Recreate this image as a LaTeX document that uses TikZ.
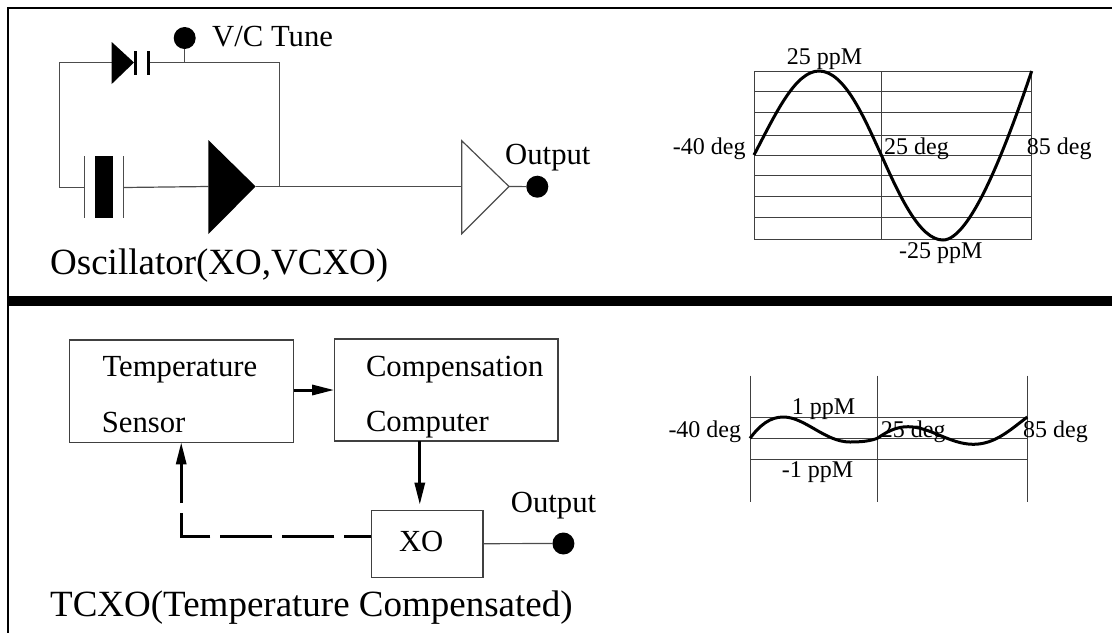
\documentclass[tikz,border=0pt]{standalone}
\usepackage{fontspec}
\setmainfont{Liberation Serif}
\usetikzlibrary{arrows.meta}
\tikzset{
  wire/.style={draw=black!70, line width=1.2pt},
  gridline/.style={draw=black!75, line width=1.2pt},
  curve/.style={draw=black, line width=3pt},
  blockbox/.style={draw=black!75, line width=1.2pt, fill=none, inner sep=0pt},
  dot/.style={draw=none, fill=black, circle, minimum size=22pt, inner sep=0pt},
  txt/.style={anchor=base west, inner sep=0pt, font=\fontsize{30.7}{36}\selectfont},
  small/.style={anchor=base west, inner sep=0pt, font=\fontsize{24}{29}\selectfont},
  title/.style={anchor=base west, inner sep=0pt, font=\fontsize{37}{44}\selectfont},
  flow/.style={line width=3pt, -{Stealth[length=22pt, width=10pt, inset=0pt]}}
}
\begin{document}
\begin{tikzpicture}[x=1pt, y=-1pt]
  \useasboundingbox (0,0) rectangle (1112,633);
  % frame and divider
  \draw[line width=2pt] (1112,7.5) -- (7.5,7.5) -- (7.5,633);
  \draw[line width=10pt] (7.5,301) -- (1112,301);

  % oscillator circuit
  \coordinate (loopleft) at (59.5,187.5);
  \coordinate (diodein) at (111.7,62.5);
  \coordinate (diodetip) at (134,62.5);
  \coordinate (capout) at (148.7,62.5);
  \coordinate (loopright) at (279.5,62.5);
  \coordinate (xtalin) at (84.3,187.5);
  \coordinate (xtalout) at (123.7,187.5);
  \coordinate (ampin) at (208.3,186.5);
  \coordinate (amptip) at (255.7,186.5);
  \coordinate (ampnode) at (279.5,186.5);
  \coordinate (bufin) at (461.7,186.5);
  \coordinate (buftip) at (509,186.5);
  \node[dot] (tunedot) at (184.7,38) {};
  \node[dot] (outdot) at (537.3,186.7) {};
  \draw[wire] (xtalin) -- (loopleft) |- (diodein);
  \draw[wire] (capout) -- (loopright) -- (ampnode);
  \draw[wire] (tunedot) -- (tunedot |- capout);
  \draw[wire] (xtalout) -- (ampin);
  \draw[wire] (amptip) -- (bufin);
  \draw[wire] (buftip) -- (outdot);
  \fill (diodein |- 0,42) -- (diodetip) -- (diodein |- 0,84) -- cycle;
  \draw[line width=3pt] (135.5,51) -- (135.5,75);
  \draw[line width=3pt] (148.7,51) -- (148.7,75);
  \draw[wire] (84.3,156) -- (84.3,218);
  \draw[wire] (123.7,156) -- (123.7,218);
  \fill (95,156) rectangle (113,218);
  \fill (ampin |- 0,140) -- (amptip) -- (ampin |- 0,234) -- cycle;
  \draw[wire] (bufin |- 0,140.7) -- (buftip) -- (bufin |- 0,233.7) -- cycle;
  \node[txt] (tunelabel) at (212,46.5) {V/C Tune};
  \node[txt] (outlabel) at (505,164.5) {Output};
  \node[title] (osctitle) at (50,274) {Oscillator(XO,VCXO)};

  % oscillator drift chart
  \foreach \yy in {71.5,91.5,112.5,135.5,155.5,175.5,196.5,217.5,239.5}
    \draw[gridline] (754,\yy) -- (1031.7,\yy);
  \foreach \xx in {754.5,881.5,1031.5}
    \draw[gridline] (\xx,71.5) -- (\xx,239.5);
  \draw[curve] (754,155) .. controls (775,115) and (795,71) .. (819,71)
    .. controls (845,71) and (865,120) .. (881.3,155)
    .. controls (900,197) and (920,240) .. (943,240)
    .. controls (970,240) and (1005,150) .. (1031.7,71);
  \node[small] (ppmtop) at (786.7,64) {25 ppM};
  \node[small] (ppmlow) at (899,258) {-25 ppM};
  \node[small] (degcold) at (672.7,154) {-40 deg};
  \node[small] (degroom) at (884,154) {25 deg};
  \node[small] (deghot) at (1026.7,154) {85 deg};

  % tcxo blocks
  \node[blockbox, minimum width=224.2pt, minimum height=102.3pt] (tempbox) at (181.7,391.2) {};
  \node[blockbox, minimum width=223.2pt, minimum height=102pt] (compbox) at (446.4,390) {};
  \node[blockbox, minimum width=111.6pt, minimum height=67pt] (xobox) at (427.1,543.8) {};
  \node[dot] (tcxodot) at (563.4,543.5) {};
  \coordinate (comptap) at (419.8,441);
  \coordinate (xotap) at (371.3,536);
  \coordinate (sensetap) at (181.2,442.3);
  \draw[flow] (tempbox.east |- 0,390) -- (compbox.west |- 0,390);
  \draw[flow, shorten >=5pt] (comptap) -- (comptap |- xobox.north);
  \draw[flow, dash pattern=on 52pt off 10pt, dash phase=25pt] (xotap) -| (sensetap);
  \draw[wire] (xobox) -- (tcxodot);
  \node[txt] (tempt) at (102.3,376.5) {Temperature};
  \node[txt] (sensort) at (101.6,432) {Sensor};
  \node[txt] (compt) at (365.8,376) {Compensation};
  \node[txt] (computert) at (365.8,431.5) {Computer};
  \node[txt] (xot) at (398.8,551.5) {XO};
  \node[txt] (tcxoout) at (510.7,512) {Output};
  \node[title] (tcxotitle) at (50,616) {TCXO(Temperature Compensated)};

  % tcxo drift chart
  \foreach \yy in {417.5,438.5,459.5}
    \draw[gridline] (750,\yy) -- (1027.3,\yy);
  \foreach \xx in {750.5,877.5,1027.5}
    \draw[gridline] (\xx,375.7) -- (\xx,501.7);
  \draw[curve] (750,438.3) .. controls (760,425) and (770,417) .. (783.3,417)
    .. controls (805,417) and (825,442) .. (850,442)
    .. controls (862,442) and (870,441) .. (877.3,438.3)
    .. controls (885,433) and (895,426.7) .. (908,426.7)
    .. controls (930,426.7) and (950,444.3) .. (973.3,444.3)
    .. controls (995,444.3) and (1010,430) .. (1027.3,417);
  \node[small] (ppmup) at (791.7,414) {1 ppM};
  \node[small] (ppmdown) at (781.7,477.7) {-1 ppM};
  \node[small] (degcoldb) at (668.3,437.5) {-40 deg};
  \node[small] (degroomb) at (880.7,437.5) {25 deg};
  \node[small] (deghotb) at (1023,437.5) {85 deg};
\end{tikzpicture}
\end{document}
